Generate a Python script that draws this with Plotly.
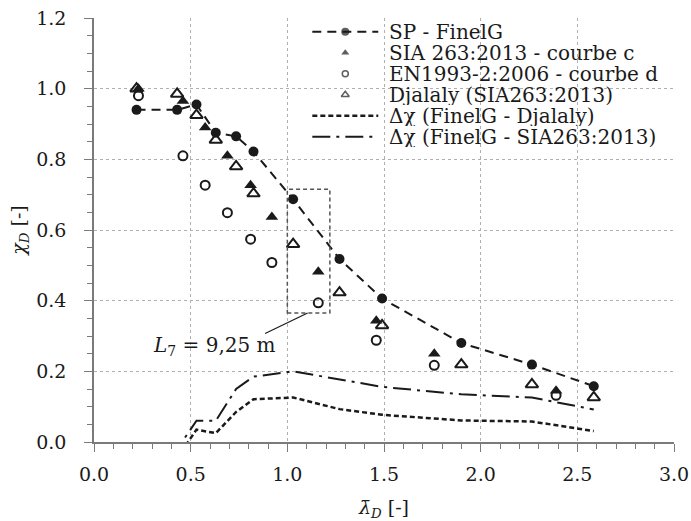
import plotly.graph_objects as go

# Reduced slenderness (x) and reduction factor (y) for each method
lam_finelg = [0.22, 0.43, 0.53, 0.63, 0.735, 0.825, 1.03, 1.27, 1.49, 1.90, 2.265, 2.585]
chi_finelg = [0.94, 0.94, 0.955, 0.875, 0.865, 0.822, 0.687, 0.518, 0.406, 0.280, 0.219, 0.158]

lam_code = [0.23, 0.46, 0.575, 0.69, 0.81, 0.92, 1.16, 1.46, 1.76, 2.39]
chi_sia = [1.0, 0.965, 0.89, 0.81, 0.727, 0.637, 0.482, 0.343, 0.25, 0.145]
chi_en = [0.98, 0.81, 0.727, 0.649, 0.574, 0.508, 0.394, 0.288, 0.217, 0.132]

chi_djalaly = [1.0, 0.985, 0.925, 0.855, 0.78, 0.703, 0.56, 0.423, 0.33, 0.219, 0.163, 0.126]

d_chi_djalaly = [-0.06, -0.045, 0.035, 0.025, 0.085, 0.121, 0.126, 0.093, 0.077, 0.061, 0.058, 0.031]
d_chi_sia = [-0.06, -0.02, 0.06, 0.06, 0.15, 0.185, 0.20, 0.177, 0.156, 0.135, 0.126, 0.092]

names = ["SP - FinelG", "SIA 263:2013 - courbe c", "EN1993-2:2006 - courbe d",
         "Djalaly (SIA263:2013)", "Δχ (FinelG - Djalaly)", "Δχ (FinelG - SIA263:2013)"]

# Highlighted region around L7
box_x = [1.0, 1.22]
box_y = [0.365, 0.715]
box_label = "<i>L</i><sub>7</sub> = 9,25 m"

FONT = "DejaVu Serif"
INK = "#1a1a1a"
AX = "#7a7a7a"
FS = 19
FS_LEG = 20

W, H = 691, 521
ML, MR, MT, MB = 93.5, 17, 18, 79
PW, PH = W - ML - MR, H - MT - MB

DASH_FE = "9px,6px"
DASH_DJ = "5px,3px"
DASH_SIA = "18px,6px,3px,6px"

fig = go.Figure()

fig.add_trace(go.Scatter(x=lam_finelg, y=chi_finelg, mode="lines+markers", name=names[0],
                         line=dict(color=INK, width=2, dash=DASH_FE),
                         marker=dict(symbol="circle", size=10, color=INK)))
fig.add_trace(go.Scatter(x=lam_code, y=chi_sia, mode="markers", name=names[1],
                         marker=dict(symbol="triangle-up", size=11, color=INK)))
fig.add_trace(go.Scatter(x=lam_code, y=chi_en, mode="markers", name=names[2],
                         marker=dict(symbol="circle-open", size=9, color=INK, line=dict(width=2))))
fig.add_trace(go.Scatter(x=lam_finelg, y=chi_djalaly, mode="markers", name=names[3],
                         marker=dict(symbol="triangle-up-open", size=11, color=INK, line=dict(width=2))))
fig.add_trace(go.Scatter(x=lam_finelg, y=d_chi_djalaly, mode="lines", name=names[4],
                         line=dict(color=INK, width=2.5, dash=DASH_DJ)))
fig.add_trace(go.Scatter(x=lam_finelg, y=d_chi_sia, mode="lines", name=names[5],
                         line=dict(color=INK, width=2, dash=DASH_SIA)))

# ---- compact legend drawn in plot-area (paper) coordinates ----
def px_x(px):
    return (px - ML) / PW

def px_y(py):
    return (H - MB - py) / PH

row0, row_gap = 31.7, 21.0
sym_l, sym_r, txt_l = 312, 378, 388
sym_c = (sym_l + sym_r) / 2
leg_lines = {0: (DASH_FE, 2), 4: (DASH_DJ, 2.5), 5: (DASH_SIA, 2)}
leg_marks = {0: ("circle", 8, 0), 1: ("triangle-up", 7, 0),
             2: ("circle-open", 6, 1.5), 3: ("triangle-up-open", 7, 1.5)}
mx, my, msym, msize, mlw = [], [], [], [], []
for i, nm in enumerate(names):
    yc = px_y(row0 + i * row_gap)
    if i in leg_lines:
        dash, lw = leg_lines[i]
        fig.add_shape(type="line", xref="paper", yref="paper",
                      x0=px_x(sym_l), x1=px_x(sym_r), y0=yc, y1=yc,
                      line=dict(color=INK, width=lw, dash=dash))
    if i in leg_marks:
        s, sz, lwid = leg_marks[i]
        mx.append(px_x(sym_c)); my.append(yc); msym.append(s); msize.append(sz); mlw.append(lwid)
    fig.add_annotation(x=px_x(txt_l), y=yc, xref="paper", yref="paper", text=nm,
                       showarrow=False, xanchor="left", yanchor="middle",
                       height=row_gap - 1, valign="middle", borderpad=0,
                       font=dict(family=FONT, size=FS_LEG, color=INK))
fig.add_trace(go.Scatter(x=mx, y=my, xaxis="x2", yaxis="y2", mode="markers",
                         marker=dict(symbol=msym, size=msize, color=INK,
                                     line=dict(width=mlw, color=INK)),
                         hoverinfo="skip"))

fig.add_shape(type="rect", x0=box_x[0], x1=box_x[1], y0=box_y[0], y1=box_y[1],
              line=dict(color="#555555", width=1.5, dash="4px,3px"))
fig.add_shape(type="line", x0=1.105, y0=box_y[0], x1=0.885, y1=0.307,
              line=dict(color=INK, width=1.2))
fig.add_annotation(x=0.95, y=0.272, xref="x", yref="y", text=box_label, showarrow=False,
                   xanchor="right", yanchor="middle", font=dict(family=FONT, size=FS_LEG, color=INK))

axis_common = dict(
    showline=True, linecolor=AX, linewidth=1.5, automargin=False,
    ticks="outside", ticklen=8, tickwidth=1.2, tickcolor=AX,
    showgrid=True, gridcolor="#b0b0b0", griddash="dot", gridwidth=1,
    zeroline=False, tickfont=dict(family=FONT, size=FS, color=INK),
    tickformat=".1f",
)

xaxis = dict(range=[0, 3.0], dtick=0.5, tick0=0, ticklabelstandoff=6,
             minor=dict(dtick=0.1, ticks="outside", ticklen=5, tickcolor=AX, showgrid=False),
             title=dict(text="<i>λ̄</i><sub><i>D</i></sub> [-]", font=dict(family=FONT, size=FS, color=INK),
                        standoff=18),
             **axis_common)
yaxis = dict(range=[0, 1.2], dtick=0.2, tick0=0, ticklabelstandoff=14,
             minor=dict(dtick=0.05, ticks="outside", ticklen=5, tickcolor=AX, showgrid=False),
             title=dict(text="<i>χ</i><sub><i>D</i></sub> [-]", font=dict(family=FONT, size=FS, color=INK),
                        standoff=6),
             **axis_common)

fig.update_layout(
    width=W, height=H,
    margin=dict(l=ML, r=MR, t=MT, b=MB, autoexpand=False),
    paper_bgcolor="white", plot_bgcolor="white",
    font=dict(family=FONT, color=INK),
    showlegend=False,
    xaxis=xaxis, yaxis=yaxis,
    xaxis2=dict(overlaying="x", range=[0, 1], visible=False, fixedrange=True),
    yaxis2=dict(overlaying="y", range=[0, 1], visible=False, fixedrange=True),
)

fig.write_html("out.html")
